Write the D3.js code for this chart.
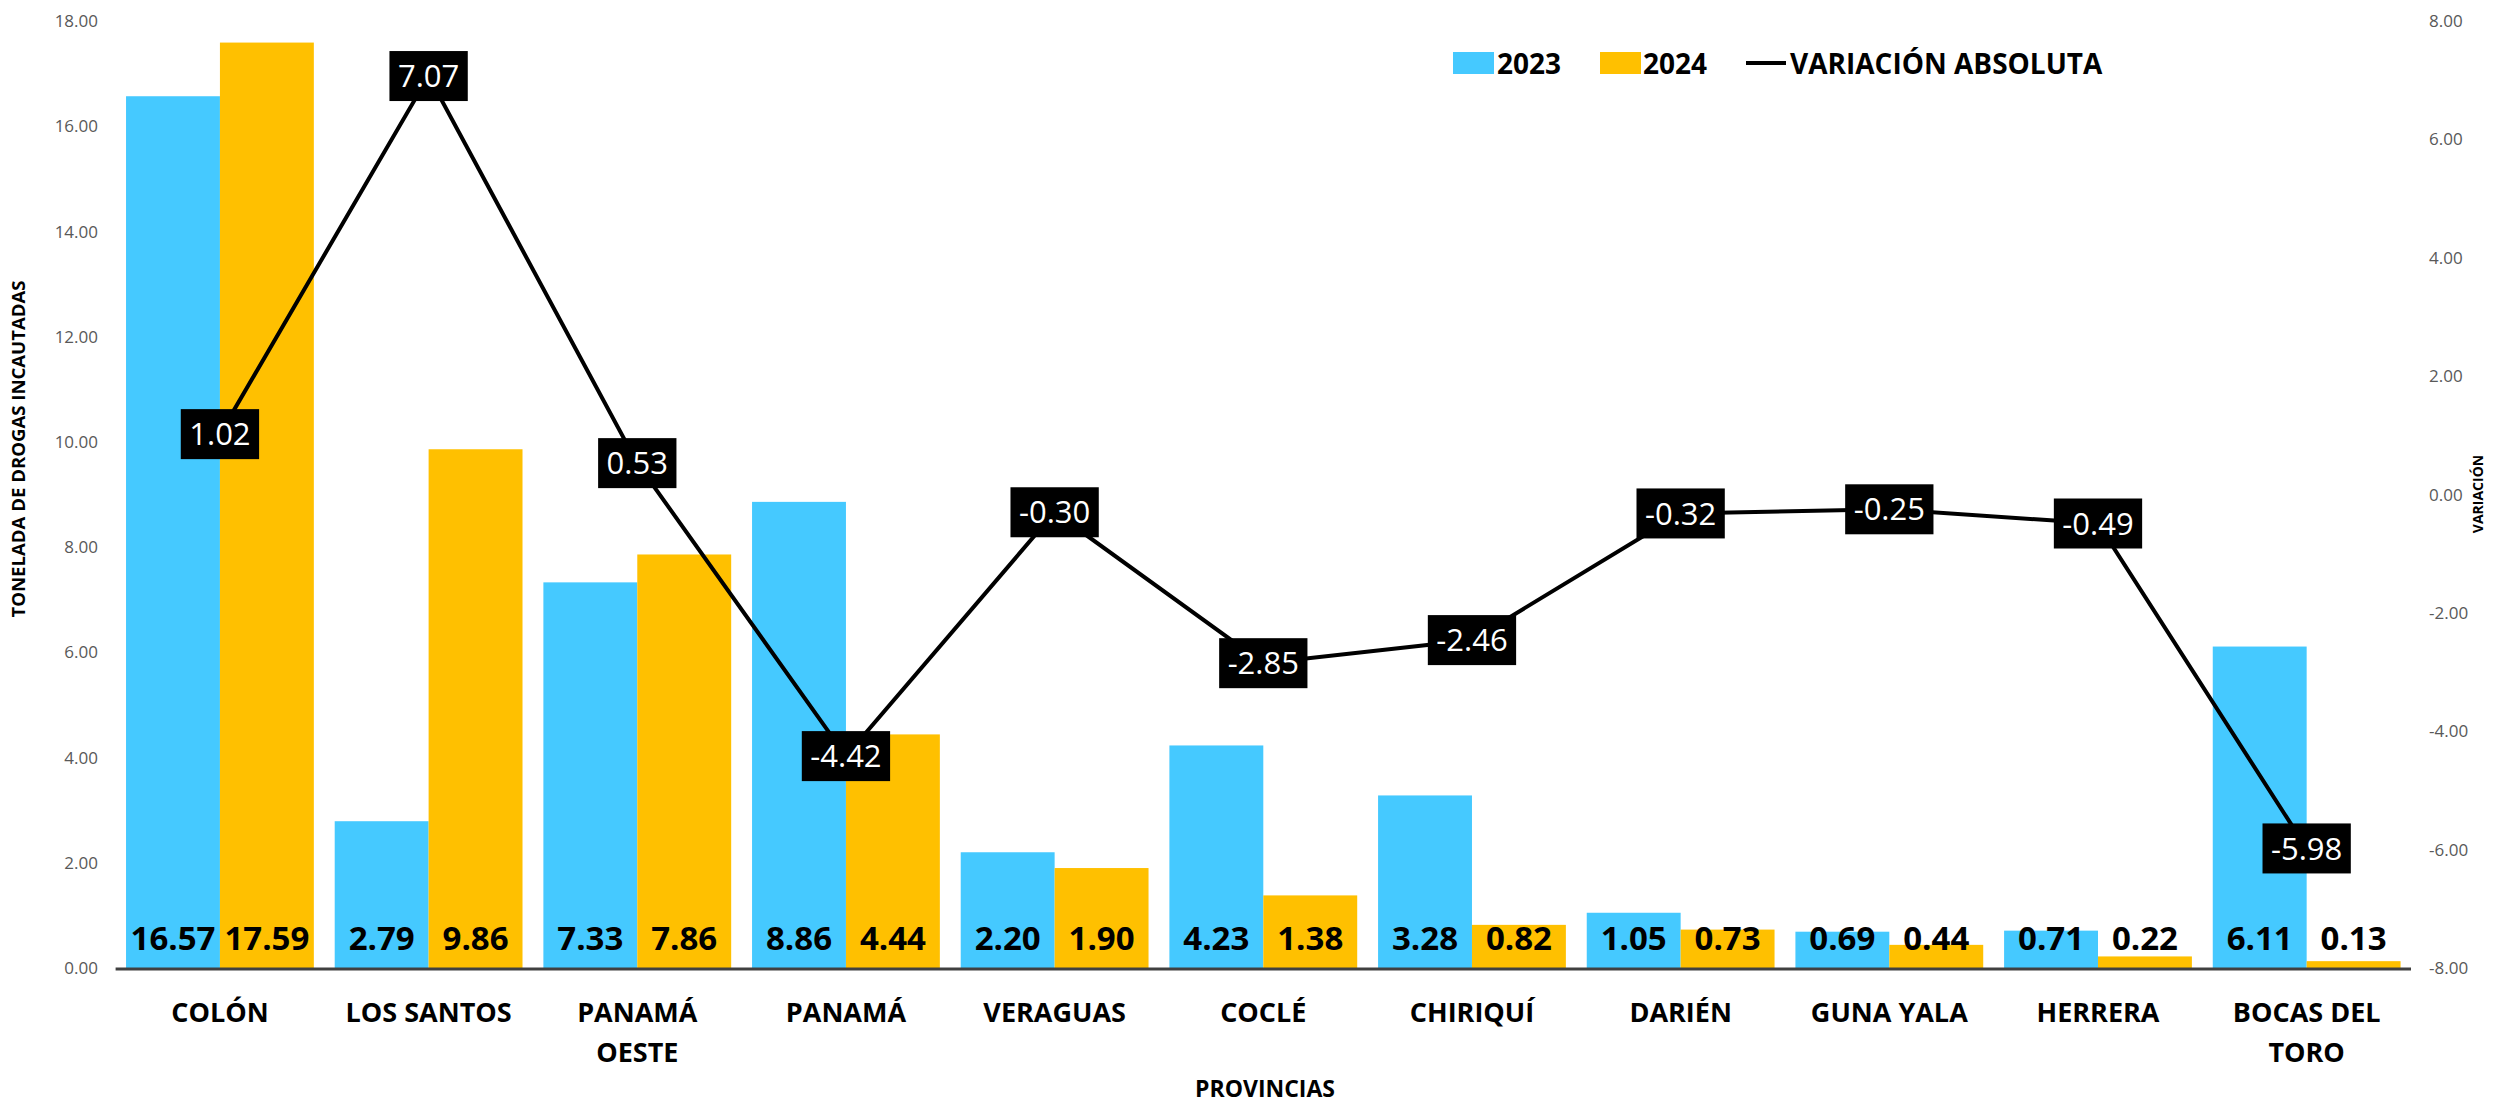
<!DOCTYPE html>
<html>
<head>
<meta charset="utf-8">
<script src="https://cdn.jsdelivr.net/npm/d3@7"></script>
<style>
  html, body { margin: 0; padding: 0; background: #fff; }
  svg { display: block; }
  text { font-family: "Open Sans", sans-serif; }
</style>
</head>
<body>
<svg id="chart" width="2494" height="1107"></svg>
<script>
const categories = ["COLÓN", "LOS SANTOS", "PANAMÁ\nOESTE", "PANAMÁ", "VERAGUAS", "COCLÉ", "CHIRIQUÍ", "DARIÉN", "GUNA YALA", "HERRERA", "BOCAS DEL\nTORO"];
const values2023 = [16.57, 2.79, 7.33, 8.86, 2.20, 4.23, 3.28, 1.05, 0.69, 0.71, 6.11];
const values2024 = [17.59, 9.86, 7.86, 4.44, 1.90, 1.38, 0.82, 0.73, 0.44, 0.22, 0.13];
const variation = [1.02, 7.07, 0.53, -4.42, -0.30, -2.85, -2.46, -0.32, -0.25, -0.49, -5.98];
const leftTicks = [0, 2, 4, 6, 8, 10, 12, 14, 16, 18];
const rightTicks = [-8, -6, -4, -2, 0, 2, 4, 6, 8];
const seriesNames = ["2023", "2024"];
const lineName = "VARIACIÓN ABSOLUTA";

const colors = { "2023": "#45C9FF", "2024": "#FFC000" };
const fmt = d3.formatLocale({ decimal: ".", thousands: ",", grouping: [3], currency: ["", ""], minus: "-" }).format(".2f");

const svg = d3.select("#chart");
const margin = { left: 115.6, right: 2411, top: 21, bottom: 968 };

const x = d3.scaleBand().domain(d3.range(categories.length))
  .range([margin.left, margin.right]).paddingInner(0.1).paddingOuter(0.05);
const xs = d3.scaleBand().domain(seriesNames).range([0, x.bandwidth()]).padding(0);
const y = d3.scaleLinear().domain([0, 18]).range([margin.bottom, margin.top]);
const y2 = d3.scaleLinear().domain([-8, 8]).range([margin.bottom, margin.top]);

const rows = categories.map((c, i) => ({ i, c, v: { "2023": values2023[i], "2024": values2024[i] }, d: variation[i] }));

// Bars
const g = svg.append("g");
rows.forEach(r => {
  seriesNames.forEach(s => {
    g.append("rect")
      .attr("x", x(r.i) + xs(s))
      .attr("width", xs.bandwidth())
      .attr("y", y(r.v[s]))
      .attr("height", y(0) - y(r.v[s]))
      .attr("fill", colors[s]);
  });
});

// Baseline axis
svg.append("line")
  .attr("x1", margin.left).attr("x2", margin.right)
  .attr("y1", y(0) + 1).attr("y2", y(0) + 1)
  .attr("stroke", "#404040").attr("stroke-width", 3);

// Left ticks
svg.append("g").selectAll("text").data(leftTicks).join("text")
  .attr("x", 98).attr("y", d => y(d)).attr("dy", "0.36em")
  .attr("text-anchor", "end").attr("font-size", 17).attr("fill", "#595959")
  .text(d => fmt(d));

// Right ticks
svg.append("g").selectAll("text").data(rightTicks).join("text")
  .attr("x", 2429).attr("y", d => y2(d)).attr("dy", "0.36em")
  .attr("text-anchor", "start").attr("font-size", 17).attr("fill", "#595959")
  .text(d => fmt(d));

// Value labels at bottom of bars
rows.forEach(r => {
  seriesNames.forEach(s => {
    svg.append("text")
      .attr("x", x(r.i) + xs(s) + xs.bandwidth() / 2)
      .attr("y", 950)
      .attr("text-anchor", "middle")
      .attr("font-size", 33).attr("font-weight", 700).attr("fill", "#000")
      .text(fmt(r.v[s]));
  });
});

// Line
const line = d3.line().x(r => x(r.i) + x.bandwidth() / 2).y(r => y2(r.d));
svg.append("path").datum(rows).attr("d", line)
  .attr("fill", "none").attr("stroke", "#000").attr("stroke-width", 4)
  .attr("stroke-linejoin", "miter");

// Line labels in black boxes
rows.forEach(r => {
  const cx = x(r.i) + x.bandwidth() / 2, cy = y2(r.d);
  const lg = svg.append("g");
  const t = lg.append("text")
    .attr("x", cx).attr("y", cy).attr("dy", "0.36em")
    .attr("text-anchor", "middle").attr("font-size", 31).attr("fill", "#fff")
    .text(fmt(r.d));
  const w = t.node().getComputedTextLength();
  lg.insert("rect", "text")
    .attr("x", cx - w / 2 - 8.5).attr("y", cy - 25)
    .attr("width", w + 17).attr("height", 50).attr("fill", "#000");
});

// Category labels
rows.forEach(r => {
  const lines = r.c.split("\n");
  const t = svg.append("text")
    .attr("text-anchor", "middle").attr("font-size", 27).attr("font-weight", 700).attr("fill", "#000");
  lines.forEach((ln, k) => {
    t.append("tspan").attr("x", x(r.i) + x.bandwidth() / 2).attr("y", 1022 + k * 40).text(ln);
  });
});

// Axis titles
svg.append("text").attr("x", 1265).attr("y", 1097).attr("text-anchor", "middle")
  .attr("font-size", 23).attr("font-weight", 700).text("PROVINCIAS");

svg.append("text").attr("transform", "translate(25,449) rotate(-90)")
  .attr("text-anchor", "middle").attr("font-size", 17).attr("font-weight", 700)
  .attr("textLength", 337).attr("lengthAdjust", "spacingAndGlyphs")
  .text("TONELADA DE DROGAS INCAUTADAS");

svg.append("text").attr("transform", "translate(2483,494) rotate(-90)")
  .attr("text-anchor", "middle").attr("font-size", 14).attr("font-weight", 700)
  .text("VARIACIÓN");

// Legend
const leg = svg.append("g");
leg.append("rect").attr("x", 1453).attr("y", 52).attr("width", 41).attr("height", 22).attr("fill", colors["2023"]);
leg.append("text").attr("x", 1497).attr("y", 74).attr("font-size", 28).attr("font-weight", 700).text(seriesNames[0]);
leg.append("rect").attr("x", 1600).attr("y", 52).attr("width", 41).attr("height", 22).attr("fill", colors["2024"]);
leg.append("text").attr("x", 1643).attr("y", 74).attr("font-size", 28).attr("font-weight", 700).text(seriesNames[1]);
leg.append("line").attr("x1", 1746).attr("x2", 1786).attr("y1", 63).attr("y2", 63).attr("stroke", "#000").attr("stroke-width", 4);
leg.append("text").attr("x", 1790).attr("y", 74).attr("font-size", 28).attr("font-weight", 700).text(lineName);
</script>
</body>
</html>
